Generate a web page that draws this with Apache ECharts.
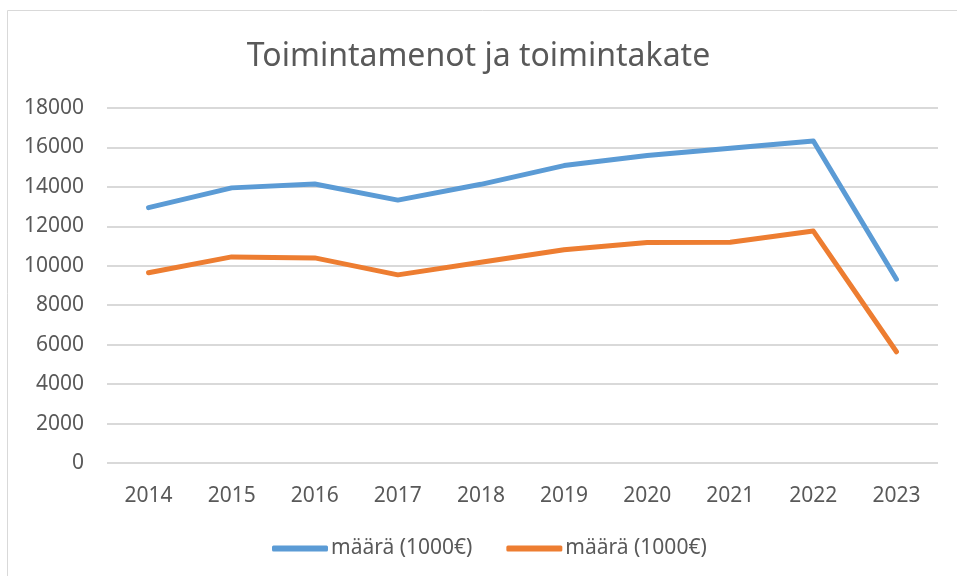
<!DOCTYPE html>
<html>
<head>
    <title>Toimintamenot ja toimintakate</title>
    <meta charset="utf-8">
    <script src="https://cdn.jsdelivr.net/npm/echarts@6/dist/echarts.min.js"></script>
    <style>
        html, body { margin: 0; padding: 0; background: #fff; }
        #chart { width: 957px; height: 576px; }
    </style>
</head>
<body>
    <div id="chart"></div>
    <script>
    // vuodet ja arvot (1000€)
    var years = ['2014', '2015', '2016', '2017', '2018', '2019', '2020', '2021', '2022', '2023'];
    var menot = [12950, 13950, 14150, 13330, 14130, 15080, 15590, 15960, 16330, 9320];
    var kate = [9650, 10450, 10400, 9540, 10180, 10810, 11180, 11190, 11760, 5640];
    var seriesNames = ['määrä (1000€)', 'määrä (1000€)'];
    var yTicks = { min: 0, max: 18000, interval: 2000 };

    var font = 'Noto Sans';
    var textColor = '#595959';

    var myChart = echarts.init(document.getElementById('chart'));
    var option = {
        animation: false,
        title: {
            text: 'Toimintamenot ja toimintakate',
            left: 'center',
            top: 36,
            textStyle: { fontFamily: font, fontSize: 32, fontWeight: 'normal', color: textColor }
        },
        graphic: [{
            type: 'rect',
            shape: { x: 7.5, y: 10.5, width: 1000, height: 1000 },
            style: { fill: 'none', stroke: '#d9d9d9', lineWidth: 1 },
            silent: true
        }],
        legend: {
            bottom: 12,
            left: 267,
            itemGap: 34,
            itemWidth: 56,
            itemHeight: 6,
            icon: 'roundRect',
            textStyle: { fontFamily: font, fontSize: 21, color: textColor, padding: [0, 0, 0, -2] },
            data: [
                { name: seriesNames[0], itemStyle: { color: '#5b9bd5' } },
                { name: seriesNames[1] + ' ', itemStyle: { color: '#ed7d31' } }
            ]
        },
        grid: { left: 107, right: 19, top: 108, bottom: 113 },
        xAxis: {
            type: 'category',
            data: years,
            boundaryGap: true,
            axisLine: { show: false },
            axisTick: { show: false },
            axisLabel: { fontFamily: font, fontSize: 21, color: textColor, margin: 23 }
        },
        yAxis: {
            type: 'value',
            min: yTicks.min,
            max: yTicks.max,
            interval: yTicks.interval,
            axisLine: { show: false },
            axisTick: { show: false },
            splitLine: { lineStyle: { color: '#d9d9d9', width: 2 } },
            axisLabel: {
                fontFamily: font, fontSize: 21, color: textColor, margin: 23,
                formatter: function (v) { return String(v); }
            }
        },
        series: [{
            name: seriesNames[0],
            type: 'line',
            data: menot,
            symbol: 'none',
            lineStyle: { color: '#5b9bd5', width: 5, cap: 'round', join: 'round' },
            itemStyle: { color: '#5b9bd5' }
        }, {
            name: seriesNames[1] + ' ',
            type: 'line',
            data: kate,
            symbol: 'none',
            lineStyle: { color: '#ed7d31', width: 5, cap: 'round', join: 'round' },
            itemStyle: { color: '#ed7d31' }
        }]
    };
    myChart.setOption(option);
    </script>
</body>
</html>
